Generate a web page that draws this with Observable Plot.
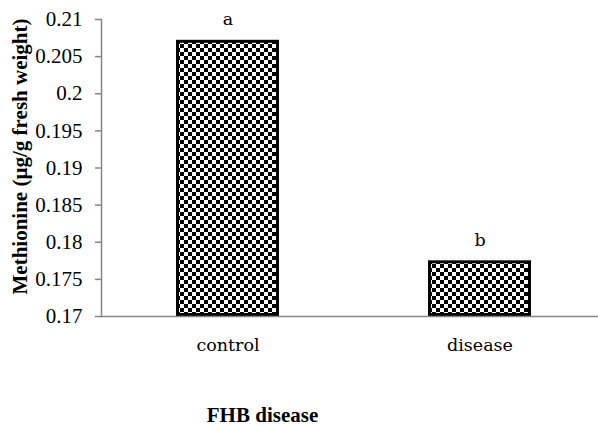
<!DOCTYPE html>
<html>
<head>
<meta charset="utf-8">
<script src="https://cdn.jsdelivr.net/npm/d3@7"></script>
<script src="https://cdn.jsdelivr.net/npm/@observablehq/plot@0.6"></script>
<style>
  html, body { margin: 0; padding: 0; background: white; overflow: hidden; }
</style>
</head>
<body>
<div id="chart"></div>
<script>
const categories = ["control", "disease"];
const values = [0.2072, 0.1775];
const letters = ["a", "b"];
const yTicks = [0.17, 0.175, 0.18, 0.185, 0.19, 0.195, 0.2, 0.205, 0.21];
const yDomain = [0.17, 0.21];
const yLabel = "Methionine (µg/g fresh weight)";
const xLabel = "FHB disease";

const data = categories.map((c, i) => ({cat: c, value: values[i], letter: letters[i]}));
const axisGray = "#868686";
const W = 598, ML = 101, MR = 0;
const frameW = W - ML - MR;

const chart = Plot.plot({
  width: W,
  height: 426,
  marginLeft: ML,
  marginRight: MR,
  marginTop: 19,
  marginBottom: 110,
  style: {fontFamily: "Liberation Serif", background: "white", color: "black"},
  x: {domain: categories, range: [101.5, 605.5], paddingInner: 0.591, paddingOuter: 0.2955, axis: null},
  y: {domain: yDomain, axis: null},
  marks: [
    Plot.barY(data, {x: "cat", y1: yDomain[0], y2: "value", fill: "url(#checker)", stroke: "black", strokeWidth: 3, inset: 1.5}),
    Plot.ruleY([yDomain[0]], {stroke: axisGray, strokeWidth: 1.5}),
    Plot.frame({anchor: "left", stroke: axisGray, strokeWidth: 1.5}),
    // y ticks (outside, 6px)
    Plot.ruleY(yTicks, {y: d => d, dx: -6, insetRight: frameW - 6, stroke: axisGray, strokeWidth: 1.5}),
    // y tick labels
    Plot.text(yTicks, {y: d => d, frameAnchor: "left", dx: -19, text: d => String(d), textAnchor: "end", lineAnchor: "middle", fontSize: 21, fontFamily: "Liberation Serif", fill: "black"}),
    // x category labels
    Plot.text(categories, {x: d => d, frameAnchor: "bottom", dy: 29, text: d => d, textAnchor: "middle", lineAnchor: "middle", fontSize: 17.5, fontFamily: "DejaVu Serif", fill: "black"}),
    // significance letters
    Plot.text(data, {x: "cat", y: "value", text: "letter", textAnchor: "middle", lineAnchor: "middle", dy: -20.6, fontSize: 17.5, fontFamily: "DejaVu Serif", fill: "black"}),
    // y axis title
    Plot.text([yLabel], {frameAnchor: "left", text: d => d, rotate: -90, dx: -81, dy: -11.5, fontSize: 21, fontWeight: "bold", textAnchor: "middle", lineAnchor: "middle", fontFamily: "Liberation Serif", fill: "black"}),
    // x axis title
    Plot.text([xLabel], {frameAnchor: "bottom-left", text: d => d, dx: 161, dy: 99, fontSize: 21, fontWeight: "bold", lineAnchor: "middle", textAnchor: "middle", fontFamily: "Liberation Serif", fill: "black"})
  ]
});

// checkerboard pattern definition
const ns = "http://www.w3.org/2000/svg";
const defs = document.createElementNS(ns, "defs");
const pat = document.createElementNS(ns, "pattern");
pat.setAttribute("id", "checker");
pat.setAttribute("patternUnits", "userSpaceOnUse");
pat.setAttribute("width", 8);
pat.setAttribute("height", 8);
[[0, 0, 8, 8, "white"], [0, 0, 4, 4, "black"], [4, 4, 4, 4, "black"]].forEach(([x, y, w, h, f]) => {
  const r = document.createElementNS(ns, "rect");
  r.setAttribute("x", x); r.setAttribute("y", y);
  r.setAttribute("width", w); r.setAttribute("height", h);
  r.setAttribute("fill", f);
  pat.appendChild(r);
});
defs.appendChild(pat);
chart.insertBefore(defs, chart.firstChild);

document.getElementById("chart").appendChild(chart);
</script>
</body>
</html>
